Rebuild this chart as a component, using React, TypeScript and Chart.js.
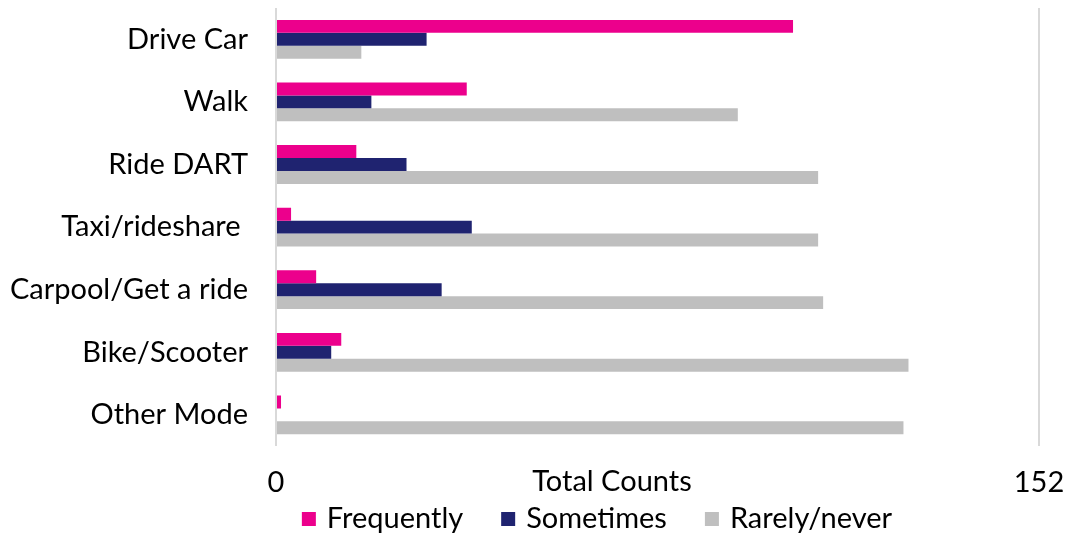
import React, { useEffect, useRef } from "react";
import { Chart, registerables } from "chart.js";

Chart.register(...registerables);

const categories = [
  "Drive Car",
  "Walk",
  "Ride DART",
  "Taxi/rideshare ",
  "Carpool/Get a ride",
  "Bike/Scooter",
  "Other Mode",
];
const frequently = [103, 38, 16, 3, 8, 13, 1];
const sometimes = [30, 19, 26, 39, 33, 11, 0];
const rarelyNever = [17, 92, 108, 108, 109, 126, 125];
const seriesNames = ["Frequently", "Sometimes", "Rarely/never"];
const seriesColors = ["#EC008C", "#1F2370", "#BFBFBF"];
const axisMax = 152;
const axisTicks = [0, 152];
const axisTitle = "Total Counts";

const FONT = "Lato, 'Open Sans', sans-serif";
const FONT_SIZE = 29;

// Axis title sits on the same row as the tick labels
const axisTitlePlugin = {
  id: "axisTitleRow",
  afterDraw(chart: any) {
    const ctx = chart.ctx;
    const bottom = chart.chartArea.bottom;
    ctx.save();
    ctx.font = `${FONT_SIZE}px ${FONT}`;
    ctx.fillStyle = "#000000";
    ctx.textAlign = "center";
    ctx.textBaseline = "middle";
    ctx.fillText(axisTitle, 612, bottom + 35);
    ctx.restore();
  },
};

// Legend row under the axis
const legendRowPlugin = {
  id: "legendRow",
  afterDraw(chart: any) {
    const ctx = chart.ctx;
    const datasets = chart.data.datasets;
    const box = 14;
    const gap = 11;
    const spacing = 38;
    const centerX = 597;
    const y = 519;
    ctx.save();
    ctx.font = `${FONT_SIZE}px ${FONT}`;
    const widths = datasets.map((d: any) => ctx.measureText(d.label).width);
    const total =
      widths.reduce((a: number, w: number) => a + box + gap + w, 0) +
      spacing * (datasets.length - 1);
    let x = centerX - total / 2;
    datasets.forEach((d: any, i: number) => {
      ctx.fillStyle = d.backgroundColor;
      ctx.fillRect(x, y - box / 2, box, box);
      ctx.fillStyle = "#000000";
      ctx.textAlign = "left";
      ctx.textBaseline = "middle";
      ctx.fillText(d.label, x + box + gap, y);
      x += box + gap + widths[i] + spacing;
    });
    ctx.restore();
  },
};

export default function App() {
  const canvasRef = useRef<HTMLCanvasElement | null>(null);

  useEffect(() => {
    if (!canvasRef.current) return;
    const values = [frequently, sometimes, rarelyNever];
    const chart = new Chart(canvasRef.current, {
      type: "bar",
      data: {
        labels: categories,
        datasets: seriesNames.map((name, i) => ({
          label: name,
          data: values[i],
          backgroundColor: seriesColors[i],
          borderWidth: 0,
          categoryPercentage: 0.62,
          barPercentage: 1,
        })),
      },
      options: {
        indexAxis: "y",
        animation: false,
        responsive: true,
        maintainAspectRatio: false,
        layout: { padding: { top: 8, right: 31, left: 0, bottom: 19 } },
        plugins: {
          legend: { display: false },
          tooltip: { enabled: false },
        },
        scales: {
          x: {
            min: 0,
            max: axisMax,
            afterBuildTicks: (axis: any) => {
              axis.ticks = axisTicks.map((v) => ({ value: v }));
            },
            afterFit: (scale: any) => {
              scale.paddingLeft = 0;
              scale.paddingRight = 0;
            },
            grid: {
              color: "#D9D9D9",
              lineWidth: 2,
              drawTicks: false,
            },
            border: { display: false },
            ticks: {
              padding: 19,
              color: "#000000",
              font: { family: FONT, size: FONT_SIZE },
              maxRotation: 0,
              autoSkip: false,
            },
          },
          y: {
            afterFit: (scale: any) => {
              scale.width = 276;
              scale.paddingTop = 0;
              scale.paddingBottom = 0;
            },
            grid: { display: false, drawTicks: true, tickLength: 28 },
            border: { display: false },
            ticks: {
              padding: 0,
              color: "#000000",
              font: { family: FONT, size: FONT_SIZE },
              autoSkip: false,
            },
          },
        },
      },
      plugins: [axisTitlePlugin, legendRowPlugin],
    });
    return () => chart.destroy();
  }, []);

  return (
    <div
      style={{
        position: "absolute",
        left: 0,
        top: 0,
        width: 1070,
        height: 538,
        background: "#ffffff",
      }}
    >
      <canvas ref={canvasRef} />
    </div>
  );
}
